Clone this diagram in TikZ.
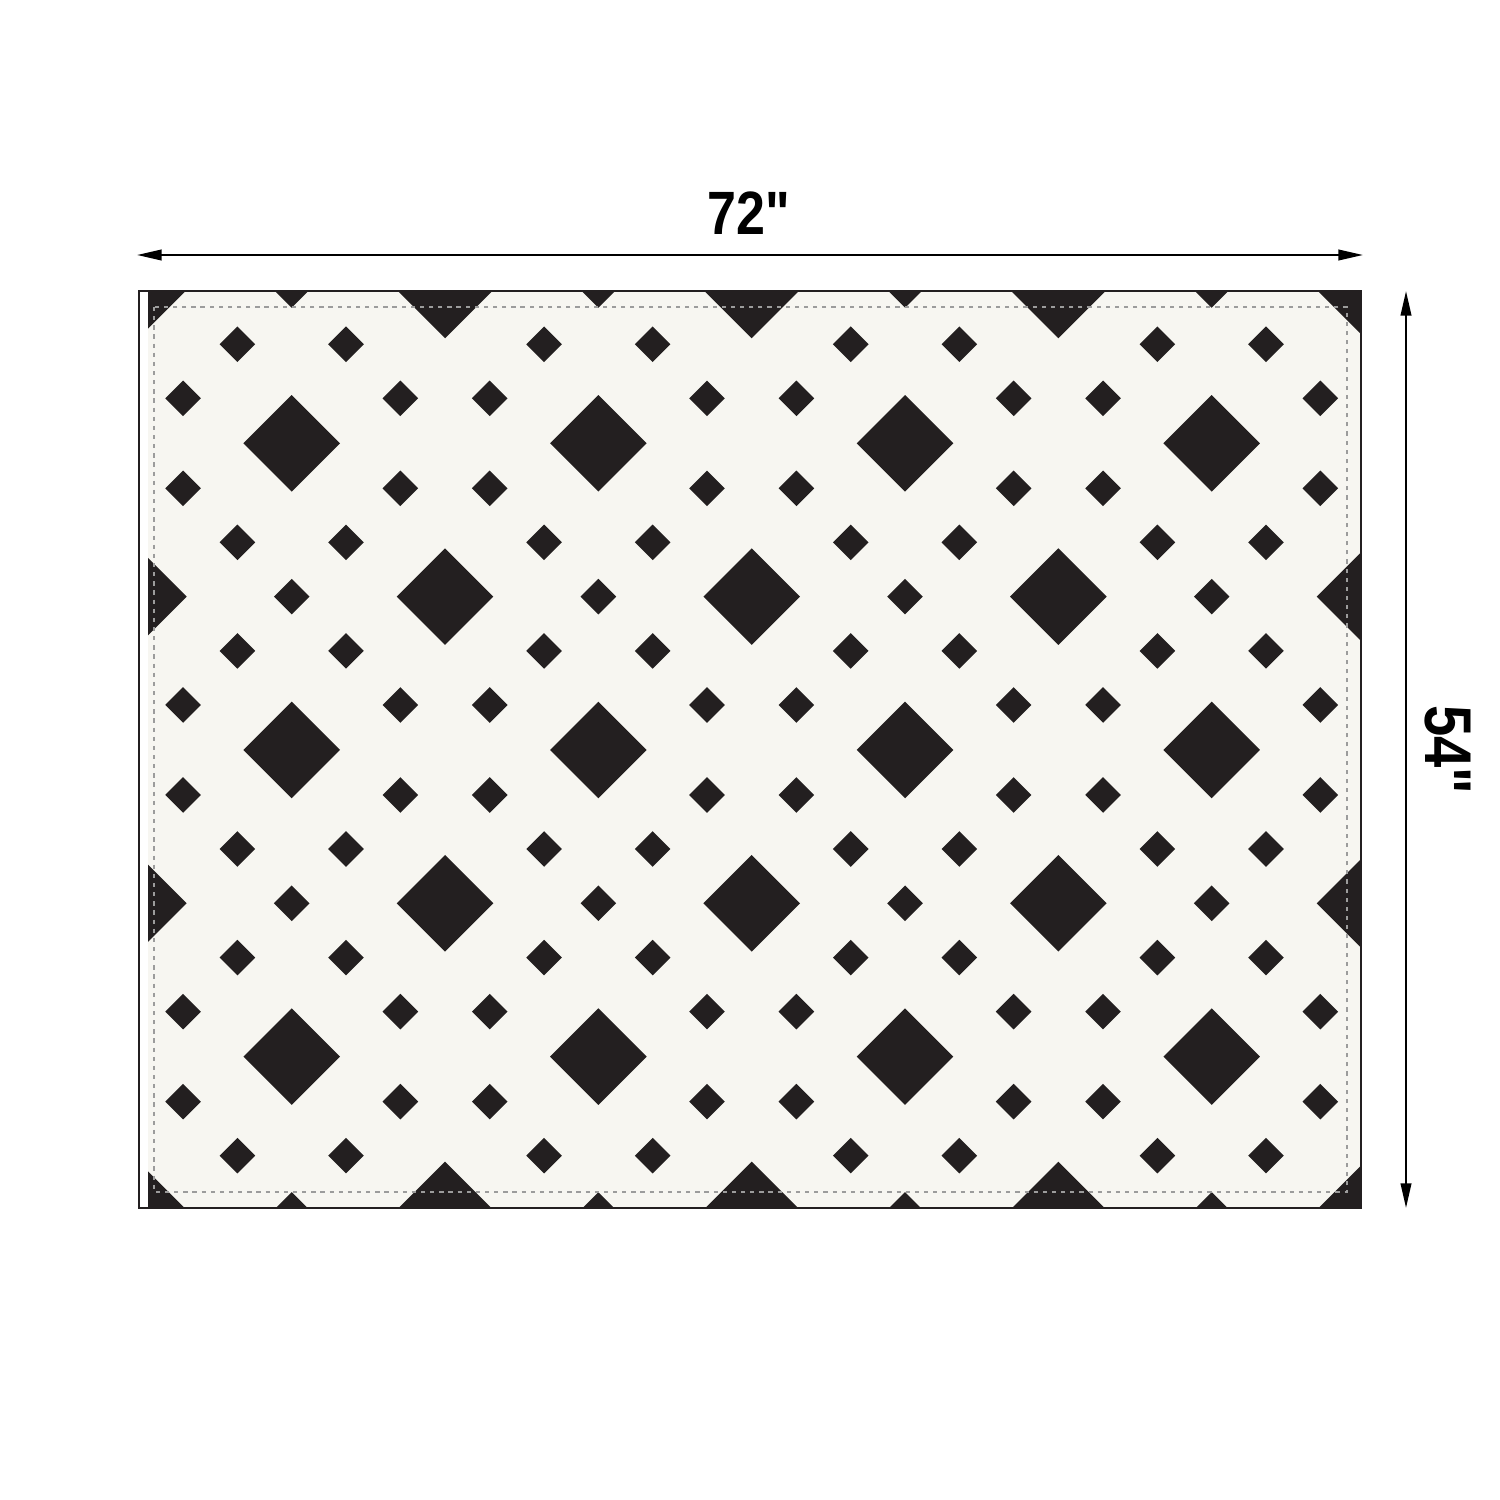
\documentclass[tikz,border=0pt]{standalone}
\usepackage{fontspec}
\setmainfont{Liberation Sans}[Ligatures=TeXOff]
\usetikzlibrary{arrows.meta}
\definecolor{blk}{HTML}{231F20}
\definecolor{cream}{HTML}{F7F6F1}
\definecolor{stitchc}{HTML}{9C9C9C}
\newcommand\mydia[3]{\fill[blk] (#1,#2) ++(-#3,0) -- ++(#3,#3) -- ++(#3,-#3) -- ++(-#3,-#3) -- cycle;}
\tikzset{
  dimline/.style={line width=0.6pt, black, {Triangle[length=7pt,width=3pt]}-{Triangle[length=7pt,width=3pt]}},
  dimtext/.style={font=\bfseries\fontsize{17.4}{20}\selectfont, inner sep=0pt},
  stitch/.style={draw=stitchc, line width=0.55pt, dash pattern=on 1.2pt off 1.4pt},
  border/.style={draw=blk, line width=0.75pt}
}
\begin{document}
\begin{tikzpicture}[x=0.01cm,y=-0.01cm]
\useasboundingbox[fill=white] (0,0) rectangle (1500,1500);
% fabric
\begin{scope}
\clip (148,291) rectangle (1361,1208);
\fill[cream] (148,291) rectangle (1361,1208);
\foreach \a in {-1,...,7}{
  \foreach \b in {-1,...,5}{
    \pgfmathsetmacro\px{291.7+153.33*\a}
    \pgfmathsetmacro\py{443.3+153.33*\b}
    \pgfmathtruncatemacro\s{mod(\a+\b+20,2)}
    \pgfmathtruncatemacro\ao{mod(\a+20,2)}
    \ifnum\s=0
      \mydia{\px}{\py}{48.3}
    \else
      \ifnum\ao=0
        \mydia{\px}{\py}{17.8}
        \mydia{\px-54.3}{\py-54.3}{17.8}
        \mydia{\px+54.3}{\py-54.3}{17.8}
        \mydia{\px-54.3}{\py+54.3}{17.8}
        \mydia{\px+54.3}{\py+54.3}{17.8}
      \else
        \mydia{\px-44.7}{\py-45}{17.8}
        \mydia{\px+44.7}{\py-45}{17.8}
        \mydia{\px-44.7}{\py+45}{17.8}
        \mydia{\px+44.7}{\py+45}{17.8}
      \fi
    \fi
  }
}
\end{scope}
% stitch line
\draw[stitch] (154,307) rectangle (1347,1192);
% outer border
\draw[border] (139,291) rectangle (1361,1208);
% dimensions
\coordinate (hl) at (137,255);
\coordinate (hr) at (1363,255);
\coordinate (vt) at (1406,291);
\coordinate (vb) at (1406,1208);
\draw[dimline] (hl) -- (hr);
\draw[dimline] (vt) -- (vb);
\node[dimtext] (w) at (749,213) {\scalebox{0.85}[1]{72"}};
\node[dimtext, font=\bfseries\fontsize{18.8}{22}\selectfont, rotate=-90] (h) at (1448,750) {\scalebox{0.85}[1]{54"}};
\end{tikzpicture}
\end{document}
